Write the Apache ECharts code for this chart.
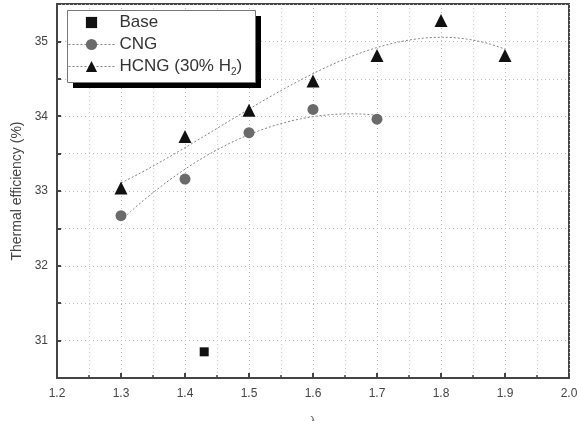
<!DOCTYPE html>
<html>
<head>
<meta charset="utf-8">
<script src="https://cdn.jsdelivr.net/npm/echarts@6/dist/echarts.min.js"></script>
<style>
  html, body { margin: 0; padding: 0; background: #fff; }
  #chart { width: 581px; height: 421px; }
</style>
</head>
<body>
<div id="chart"></div>
<script>
// data
var cngX = [1.3, 1.4, 1.5, 1.6, 1.7];
var cngY = [32.67, 33.16, 33.78, 34.09, 33.96];
var hcngX = [1.3, 1.4, 1.5, 1.6, 1.7, 1.8, 1.9];
var hcngY = [33.04, 33.73, 34.08, 34.47, 34.81, 35.28, 34.81];
var baseX = [1.43];
var baseY = [30.85];

function pairs(xs, ys) {
    return xs.map(function (x, i) { return [x, ys[i]]; });
}

// least squares polynomial fit (trend lines of the figure)
function polyFit(xs, ys, deg) {
    var n = deg + 1, A = [], i, j, k;
    var xm = 1.6;
    for (i = 0; i < n; i++) {
        A.push([]);
        for (j = 0; j <= n; j++) A[i].push(0);
    }
    xs.forEach(function (x, p) {
        var u = x - xm;
        for (i = 0; i < n; i++) {
            for (j = 0; j < n; j++) A[i][j] += Math.pow(u, i + j);
            A[i][n] += ys[p] * Math.pow(u, i);
        }
    });
    for (i = 0; i < n; i++) {
        for (k = i + 1; k < n; k++) {
            var f = A[k][i] / A[i][i];
            for (j = i; j <= n; j++) A[k][j] -= f * A[i][j];
        }
    }
    var c = new Array(n);
    for (i = n - 1; i >= 0; i--) {
        var s = A[i][n];
        for (j = i + 1; j < n; j++) s -= A[i][j] * c[j];
        c[i] = s / A[i][i];
    }
    return { c: c, xm: xm };
}

function fitLine(xs, ys, deg) {
    var fit = polyFit(xs, ys, deg), out = [];
    var x0 = xs[0], x1 = xs[xs.length - 1];
    for (var t = 0; t <= 80; t++) {
        var x = x0 + (x1 - x0) * t / 80, y = 0;
        for (var i = 0; i < fit.c.length; i++) y += fit.c[i] * Math.pow(x - fit.xm, i);
        out.push([x, y]);
    }
    return out;
}

var chart = echarts.init(document.getElementById('chart'));

var fitStyle = { color: '#808080', width: 1, type: [2, 2], opacity: 1 };
var labelFont = 'Liberation Sans';

option = {
    animation: false,
    grid: {
        left: 57, right: 12, top: 4, bottom: 43,
        outerBoundsMode: 'none',
        show: true, borderColor: '#444', borderWidth: 2
    },
    graphic: [
        { type: 'rect', left: 73, top: 16, z: 90, shape: { width: 188, height: 72 }, style: { fill: '#000' } },
        { type: 'rect', left: 67, top: 10, z: 91, shape: { width: 188, height: 72 }, style: { fill: '#fff', stroke: '#777', lineWidth: 1 } }
    ],
    legend: {
        orient: 'vertical',
        left: 68, top: 14,
        padding: 0, z: 100,
        itemWidth: 46, itemHeight: 14, itemGap: 5,
        textStyle: {
            fontFamily: labelFont, fontSize: 17, color: '#333',
            rich: {
                s: { fontFamily: labelFont, fontSize: 10, color: '#333', padding: [12, 0, 0, 0] }
            }
        },
        formatter: function (name) {
            if (name === 'HCNG') return 'HCNG (30% H{s|2})';
            return name;
        },
        data: [
            { name: 'Base', lineStyle: { opacity: 0 } },
            { name: 'CNG', lineStyle: fitStyle },
            { name: 'HCNG', lineStyle: fitStyle }
        ]
    },
    xAxis: {
        type: 'value',
        min: 1.2, max: 2.0, interval: 0.1,
        name: 'λ', nameLocation: 'middle', nameGap: 38,
        nameTextStyle: { fontFamily: labelFont, fontSize: 12, color: '#666' },
        axisLine: { onZero: false, lineStyle: { color: '#444', width: 2 } },
        axisTick: { inside: true, length: 5, lineStyle: { color: '#444', width: 2 } },
        minorTick: { show: true, splitNumber: 2, length: 3, lineStyle: { color: '#444', width: 1.5 } },
        axisLabel: {
            margin: 10, fontFamily: labelFont, fontSize: 12, color: '#444',
            formatter: function (v) { return v.toFixed(1); }
        },
        splitLine: { show: true, lineStyle: { color: '#bbb', type: [1, 3] } },
        minorSplitLine: { show: true, lineStyle: { color: '#ccc', type: [1, 3] } }
    },
    yAxis: {
        type: 'value',
        min: 30.5, max: 35.5, interval: 0.5,
        name: 'Thermal efficiency (%)', nameLocation: 'middle', nameGap: 33,
        nameTextStyle: { fontFamily: labelFont, fontSize: 14, color: '#444' },
        axisLine: { lineStyle: { color: '#444', width: 2 } },
        axisTick: { inside: true, length: 4, lineStyle: { color: '#444', width: 2 } },
        axisLabel: {
            margin: 9, fontFamily: labelFont, fontSize: 12, color: '#444',
            formatter: function (v) { return Math.abs(v - Math.round(v)) < 1e-6 ? String(Math.round(v)) : ''; }
        },
        splitLine: { show: true, lineStyle: { color: '#bbb', type: [1, 3] } }
    },
    series: [
        {
            name: 'Base', type: 'line',
            symbol: 'rect', symbolSize: 9,
            itemStyle: { color: '#111' },
            lineStyle: { width: 0, opacity: 0 },
            data: pairs(baseX, baseY), z: 5
        },
        {
            name: 'CNG', type: 'line',
            symbol: 'circle', symbolSize: 11, showAllSymbol: true,
            itemStyle: { color: '#6a6a6a' },
            lineStyle: { width: 0, opacity: 0 },
            data: pairs(cngX, cngY), z: 5
        },
        {
            name: 'HCNG', type: 'line',
            symbol: 'triangle', symbolSize: 13, showAllSymbol: true,
            itemStyle: { color: '#111' },
            lineStyle: { width: 0, opacity: 0 },
            data: pairs(hcngX, hcngY), z: 5
        },
        {
            name: 'CNG fit', type: 'line', showSymbol: false, symbol: 'none',
            lineStyle: fitStyle, data: fitLine(cngX, cngY, 2), z: 3
        },
        {
            name: 'HCNG fit', type: 'line', showSymbol: false, symbol: 'none',
            lineStyle: fitStyle, data: fitLine(hcngX, hcngY, 3), z: 3
        }
    ]
};

chart.setOption(option);
</script>
</body>
</html>
